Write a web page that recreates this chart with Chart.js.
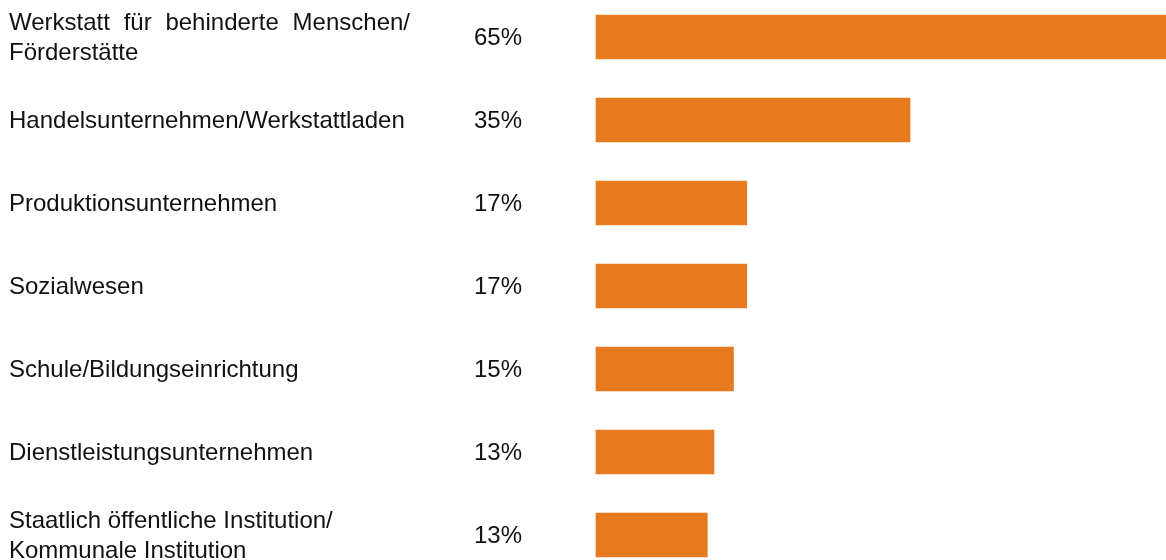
<!DOCTYPE html>
<html>
<head>
<meta charset="utf-8">
<script src="https://cdn.jsdelivr.net/npm/chart.js@4.4.1/dist/chart.umd.min.js"></script>
<style>
  html, body { margin: 0; padding: 0; background: #fff; }
  canvas { display: block; }
</style>
</head>
<body>
<canvas id="chart" width="1166" height="560"></canvas>
<script>
// Categories (each entry = lines of the label)
const categories = [
    ['Werkstatt für behinderte Menschen/', 'Förderstätte'],
    ['Handelsunternehmen/Werkstattladen'],
    ['Produktionsunternehmen'],
    ['Sozialwesen'],
    ['Schule/Bildungseinrichtung'],
    ['Dienstleistungsunternehmen'],
    ['Staatlich öffentliche Institution/', 'Kommunale Institution']
];

// Share in percent
const shares = [65, 35.4, 17.0, 17.0, 15.5, 13.3, 12.55];

// Printed value labels
const valueLabels = ['65%', '35%', '17%', '17%', '15%', '13%', '13%'];

const FONT = '24px "Liberation Sans", Arial, sans-serif';
const TEXT_COLOR = '#111111';
const BAR_COLOR = '#E57A1E';

// draws the category names and the percentages left of the bars
const sideLabels = {
    id: 'sideLabels',
    afterDatasetsDraw: (chart) => {
        const ctx = chart.ctx;
        const yScale = chart.scales.y;
        ctx.save();
        ctx.font = FONT;
        ctx.fillStyle = TEXT_COLOR;
        ctx.textBaseline = 'middle';
        ctx.textAlign = 'left';

        categories.forEach((lines, i) => {
            const yc = yScale.getPixelForValue(i) + 1;
            if (lines.length === 1) {
                ctx.fillText(lines[0], 9, yc);
            } else {
                const lineGap = 30;
                const y1 = yc - lineGap / 2;
                if (i === 0) {
                    // first label is justified like in the source document
                    drawJustified(ctx, lines[0], 9, 410, y1);
                } else {
                    ctx.fillText(lines[0], 9, y1);
                }
                ctx.fillText(lines[1], 9, y1 + lineGap);
            }
            ctx.fillText(valueLabels[i], 474, yc);
        });
        ctx.restore();
    }
};

function drawJustified(ctx, text, x0, x1, y) {
    const words = text.split(' ');
    const widths = words.map(w => ctx.measureText(w).width);
    const total = widths.reduce((a, b) => a + b, 0);
    const gap = (x1 - x0 - total) / (words.length - 1);
    let x = x0;
    words.forEach((w, k) => {
        ctx.fillText(w, x, y);
        x += widths[k] + gap;
    });
}

new Chart(document.getElementById('chart'), {
    type: 'bar',
    data: {
        labels: categories.map(l => l.join(' ')),
        datasets: [{
            data: shares,
            backgroundColor: BAR_COLOR,
            borderWidth: 0,
            barThickness: 44,
            clip: false
        }]
    },
    options: {
        indexAxis: 'y',
        responsive: false,
        animation: false,
        devicePixelRatio: 1,
        layout: { padding: { left: 596, right: 0, top: 37, bottom: 25 } },
        plugins: {
            legend: { display: false },
            tooltip: { enabled: false }
        },
        scales: {
            x: { display: false, min: 0, max: 64.26 },
            y: { display: false, offset: false }
        }
    },
    plugins: [sideLabels]
});
</script>
</body>
</html>
